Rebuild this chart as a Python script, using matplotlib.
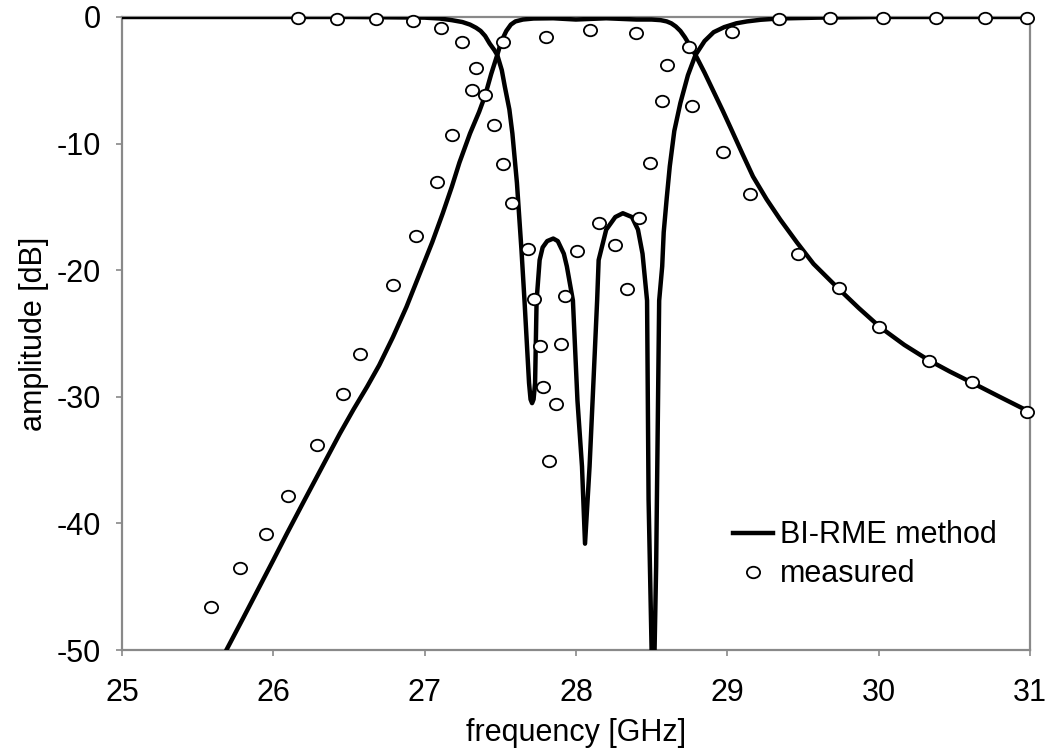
import matplotlib
matplotlib.use("Agg")
import matplotlib.pyplot as plt
from matplotlib.path import Path
from matplotlib.transforms import Affine2D

plt.rcParams['font.family'] = ['Liberation Sans', 'DejaVu Sans']
plt.rcParams['axes.unicode_minus'] = False

# simulated transmission (BI-RME)
s21_f = [25.60, 25.69, 25.80, 25.90, 26.00, 26.09, 26.20, 26.28, 26.36, 26.44,
         26.53, 26.62, 26.70, 26.79, 26.88, 26.97, 27.05, 27.12, 27.18, 27.23,
         27.30, 27.36, 27.40, 27.44, 27.48, 27.50, 27.52, 27.54, 27.57, 27.60,
         27.65, 27.72, 27.85, 28.00, 28.20, 28.40, 28.50, 28.56, 28.60, 28.63,
         28.66, 28.69, 28.72, 28.75, 28.79, 28.85, 28.91, 28.97, 29.02, 29.10,
         29.17, 29.26, 29.35, 29.46, 29.57, 29.73, 29.87, 30.01, 30.17, 30.33,
         30.47, 30.62, 30.80, 31.00]
s21_db = [-52.5, -50.0, -47.5, -45.2, -42.9, -40.8, -38.3, -36.5, -34.7, -32.9,
          -31.0, -29.2, -27.5, -25.3, -22.9, -20.2, -17.8, -15.5, -13.4, -11.5,
          -9.2, -7.5, -6.2, -4.5, -3.0, -2.2, -1.6, -1.1, -0.6, -0.35,
          -0.2, -0.12, -0.1, -0.2, -0.1, -0.2, -0.2, -0.25, -0.35, -0.5,
          -0.75, -1.1, -1.6, -2.2, -3.0, -4.4, -5.9, -7.4, -8.7, -10.8,
          -12.6, -14.4, -16.0, -17.8, -19.5, -21.4, -23.0, -24.5, -25.9, -27.1,
          -28.0, -28.9, -30.0, -31.2]

# simulated reflection (BI-RME)
s11_f = [25.00, 26.50, 27.00, 27.10, 27.18, 27.25, 27.30, 27.34, 27.37, 27.40,
         27.43, 27.46, 27.48, 27.51, 27.53, 27.56, 27.58, 27.61, 27.64, 27.66,
         27.69, 27.70, 27.71, 27.72, 27.73, 27.74, 27.76, 27.78, 27.81, 27.85,
         27.88, 27.92, 27.94, 27.98, 28.01, 28.04, 28.06, 28.09, 28.11, 28.14,
         28.15, 28.20, 28.26, 28.31, 28.37, 28.41, 28.44, 28.47, 28.48, 28.50,
         28.51, 28.53, 28.54, 28.55, 28.57, 28.58, 28.60, 28.62, 28.65, 28.69,
         28.74, 28.79, 28.85, 28.91, 28.98, 29.06, 29.13, 29.22, 29.34, 29.60,
         30.00, 31.00]
s11_db = [0.0, 0.0, -0.05, -0.12, -0.25, -0.4, -0.6, -0.85, -1.1, -1.5,
          -2.1, -2.6, -3.0, -4.2, -5.5, -7.3, -9.2, -13.1, -18.4, -22.4,
          -28.9, -30.2, -30.5, -30.2, -28.9, -22.4, -19.2, -18.2, -17.7, -17.5,
          -17.7, -18.7, -19.7, -22.4, -30.3, -35.5, -41.6, -35.5, -30.3, -22.4,
          -19.2, -16.8, -15.8, -15.5, -15.8, -16.8, -18.7, -22.4, -38.1, -50.0,
          -56.0, -43.4, -32.9, -22.4, -19.7, -17.0, -14.3, -11.8, -9.0, -6.8,
          -4.6, -3.0, -1.9, -1.2, -0.8, -0.5, -0.35, -0.22, -0.12, -0.05,
          0.0, 0.0]

# measured points
meas_f = [25.59, 25.78, 25.95, 26.10, 26.29, 26.46, 26.57, 26.79, 26.94, 27.08,
          27.18, 27.31, 27.34, 27.40, 27.46, 27.52, 27.58, 27.68, 27.72, 27.76,
          27.78, 27.82, 27.87, 27.90, 27.93, 28.01, 28.15, 28.26, 28.34, 28.42,
          28.49, 28.57, 28.60, 28.77, 28.97, 29.15, 29.47, 29.74, 30.00, 30.33,
          30.62, 30.98,
          26.16, 26.42, 26.68, 26.92, 27.11, 27.25, 27.52, 27.80, 28.09, 28.40,
          28.75, 29.03, 29.34, 29.68, 30.03, 30.38, 30.70, 30.98]
meas_db = [-46.6, -43.5, -40.8, -37.8, -33.8, -29.8, -26.6, -21.2, -17.3, -13.0,
           -9.3, -5.8, -4.0, -6.2, -8.5, -11.6, -14.7, -18.3, -22.3, -26.0,
           -29.2, -35.1, -30.6, -25.8, -22.0, -18.5, -16.3, -18.0, -21.5, -15.9,
           -11.5, -6.6, -3.8, -7.0, -10.7, -14.0, -18.7, -21.4, -24.5, -27.2,
           -28.8, -31.2,
           -0.05, -0.15, -0.15, -0.3, -0.9, -2.0, -2.0, -1.6, -1.0, -1.3,
           -2.4, -1.2, -0.15, -0.05, -0.05, -0.05, -0.05, -0.05]

gray = "#898989"

fig = plt.figure(figsize=(10.56, 7.52), dpi=100)
ax = fig.add_axes([0.1155, 0.1356, 0.8598, 0.8418])

ax.plot(s21_f, s21_db, color="black", lw=3.2, solid_joinstyle="round",
        zorder=3, label="BI-RME method")
ax.plot(s11_f, s11_db, color="black", lw=3.2, solid_joinstyle="round", zorder=3)

# measured circles are a little wider than tall
ellipse = Path.unit_circle().transformed(Affine2D().scale(1.15, 1.0))
ax.plot(meas_f, meas_db, linestyle="none", marker=ellipse, ms=9.5,
        mfc="white", mec="black", mew=1.3, clip_on=False, zorder=4,
        label="measured")

ax.set_xlim(25, 31)
ax.set_ylim(-50, 0)
ax.set_xticks(range(25, 32))
ax.set_yticks(range(-50, 1, 10))

for side in ["left", "right", "top", "bottom"]:
    ax.spines[side].set_color(gray)
    ax.spines[side].set_linewidth(1.6)

ax.tick_params(axis="both", direction="out", length=4, width=1.2,
               color=gray, labelsize=22, labelcolor="black")
ax.tick_params(axis="x", pad=16)
ax.tick_params(axis="y", pad=11)

ax.set_xlabel("frequency [GHz]", fontsize=22)
ax.set_ylabel("amplitude [dB]", fontsize=22)
ax.xaxis.set_label_coords(0.5, -0.108)
ax.yaxis.set_label_coords(-0.08, 0.5)

ax.legend(loc="upper left", bbox_to_anchor=(0.673, 0.205), frameon=False,
          fontsize=22, borderpad=0, borderaxespad=0, handlelength=1.3,
          handletextpad=0.25, labelspacing=0.3)

fig.savefig("out.png", dpi=100)
